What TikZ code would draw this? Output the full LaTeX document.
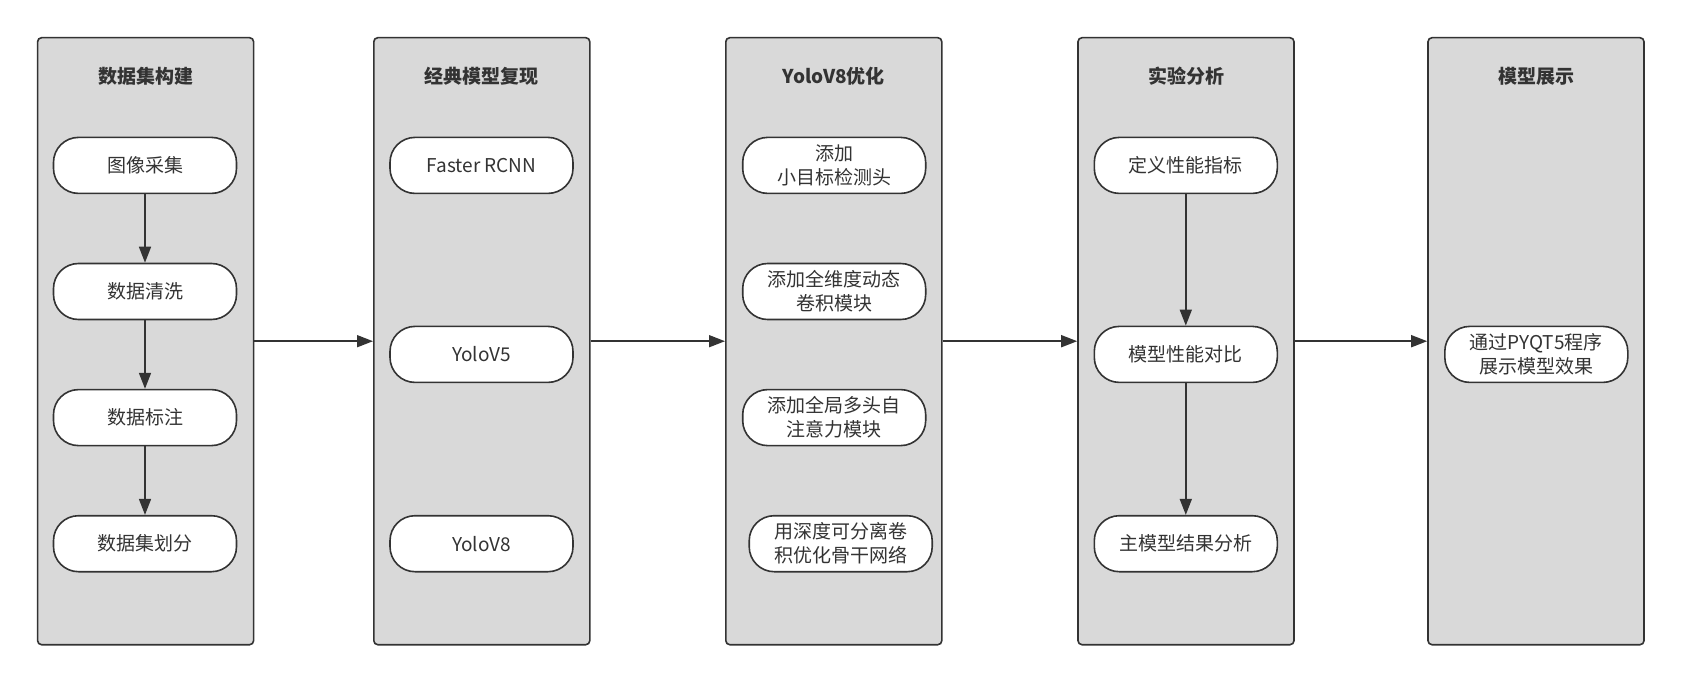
\documentclass[tikz,border=0pt]{standalone}
\usepackage{fontspec}
\setmainfont{Noto Sans CJK SC}
\usepackage{tikz}
\usetikzlibrary{positioning, arrows.meta}
\definecolor{ink}{HTML}{333333}
\definecolor{lanegray}{HTML}{D9D9D9}
\tikzstyle{Lane} = [
	draw=ink, fill=lanegray, line width=1.6pt, rounded corners=4pt,
	minimum width=216pt, minimum height=607pt
	]
\tikzstyle{Title} = [font=\fontsize{19}{24}\selectfont\bfseries, text=ink]
\tikzstyle{Stepbox} = [
	draw=ink, fill=white, line width=1.6pt, rounded corners=25pt,
	minimum width=183pt, minimum height=56pt, align=center,
	font=\fontsize{19}{24}\selectfont, text=ink
	]
\tikzstyle{Arrow} = [
	line width=1.6pt, draw=ink,
	-{Triangle[length=16pt, width=12pt]}
	]

\begin{document}
\begin{tikzpicture}[x=1pt, y=-1pt]
	\useasboundingbox (0,0) rectangle (1684,682);
	%lanes:
		\node [Lane] (L1) at (145.6,341.2) {};
		\node [Lane] (L2) at (481.8,341.2) {};
		\node [Lane] (L3) at (833.8,341.2) {};
		\node [Lane] (L4) at (1186,341.2) {};
		\node [Lane] (L5) at (1536,341.2) {};
	%titles:
		\node [Title] (T1) at (145.6,76) {数据集构建};
		\node [Title] (T2) at (481.8,76) {经典模型复现};
		\node [Title] (T3) at (833.8,76) {YoloV8优化};
		\node [Title] (T4) at (1186,76) {实验分析};
		\node [Title] (T5) at (1536,76) {模型展示};
	%steps:
		\node [Stepbox] (11) at (145,165.4) {图像采集};
		\node [Stepbox] (12) at (145,291.5) {数据清洗};
		\node [Stepbox] (13) at (145,417.6) {数据标注};
		\node [Stepbox] (14) at (145,543.7) {数据集划分};
		\node [Stepbox] (21) at (481.5,165.4) {Faster RCNN};
		\node [Stepbox] (22) at (481.5,354.4) {YoloV5};
		\node [Stepbox] (23) at (481.5,543.7) {YoloV8};
		\node [Stepbox] (31) at (834.2,165.4) {添加\\小目标检测头};
		\node [Stepbox] (32) at (834.2,291.5) {添加全维度动态\\卷积模块};
		\node [Stepbox] (33) at (834.2,417.6) {添加全局多头自\\注意力模块};
		\node [Stepbox] (34) at (840.7,543.7) {用深度可分离卷\\积优化骨干网络};
		\node [Stepbox] (41) at (1185.8,165.4) {定义性能指标};
		\node [Stepbox] (42) at (1185.8,354.4) {模型性能对比};
		\node [Stepbox] (43) at (1185.8,543.7) {主模型结果分析};
		\node [Stepbox] (51) at (1536.3,354.4) {通过PYQT5程序\\展示模型效果};
	%edges:
		\draw[Arrow] (11.south) -- (12.north);
		\draw[Arrow] (12.south) -- (13.north);
		\draw[Arrow] (13.south) -- (14.north);
		\draw[Arrow] (41.south) -- (42.north);
		\draw[Arrow] (42.south) -- (43.north);
		\draw[Arrow] (L1.east) -- (L2.west);
		\draw[Arrow] (L2.east) -- (L3.west);
		\draw[Arrow] (L3.east) -- (L4.west);
		\draw[Arrow] (L4.east) -- (L5.west);
\end{tikzpicture}
\end{document}
